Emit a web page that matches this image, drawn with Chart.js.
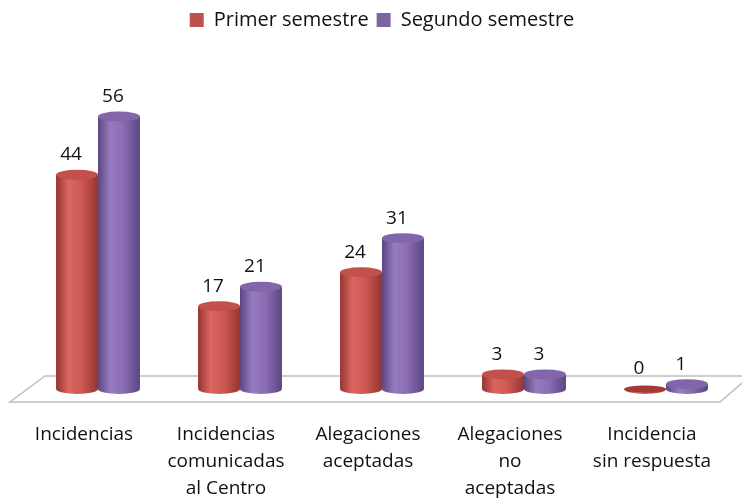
<!DOCTYPE html>
<html>
<head>
<meta charset="utf-8">
<script src="https://cdn.jsdelivr.net/npm/chart.js@4"></script>
<style>
  html, body { margin: 0; padding: 0; background: #fff; }
  #wrap { width: 742px; height: 500px; }
</style>
</head>
<body>
<div id="wrap"><canvas id="chart"></canvas></div>
<script>
// Chart data
const categories = [
    'Incidencias',
    ['Incidencias', 'comunicadas', 'al Centro'],
    ['Alegaciones', 'aceptadas'],
    ['Alegaciones', 'no', 'aceptadas'],
    ['Incidencia', 'sin respuesta']
];
const seriesNames = ['Primer semestre', 'Segundo semestre'];
const primerValues = [44, 17, 24, 3, 0];
const segundoValues = [56, 21, 31, 3, 1];

const baseColors = ['#C0504D', '#8064A2'];
const shades = [
    { dark: '#963530', mid: '#CF5853', light: '#DA6661', top: '#C4504C' },
    { dark: '#5C4682', mid: '#8A6DB3', light: '#977BC0', top: '#8366AA' }
];

const FONT = '"Open Sans", Lato, sans-serif';
const RY = 5; // half height of the cylinder caps

// Floor drawn under the cylinders
const floorPlugin = {
    id: 'floor',
    beforeDatasetsDraw(chart) {
        const { ctx, chartArea } = chart;
        const base = chart.scales.y.getPixelForValue(0);
        ctx.save();
        ctx.beginPath();
        ctx.moveTo(chartArea.left - 17, base + 13);
        ctx.lineTo(chartArea.right - 17, base + 13);
        ctx.lineTo(chart.width + 8, base - 13);
        ctx.lineTo(chartArea.left + 18, base - 13);
        ctx.closePath();
        ctx.fillStyle = '#ffffff';
        ctx.fill();
        ctx.strokeStyle = '#BFBFBF';
        ctx.lineWidth = 1.5;
        ctx.stroke();
        ctx.restore();
    }
};

// Draw each bar as a cylinder on top of the plain bar
const cylinderPlugin = {
    id: 'cylinders',
    afterDatasetsDraw(chart) {
        const ctx = chart.ctx;
        chart.data.datasets.forEach((ds, di) => {
            const meta = chart.getDatasetMeta(di);
            const sh = shades[di];
            meta.data.forEach(el => {
                const left = el.x - el.width / 2;
                const right = el.x + el.width / 2;
                const rx = el.width / 2;
                const grad = ctx.createLinearGradient(left, 0, right, 0);
                grad.addColorStop(0, sh.dark);
                grad.addColorStop(0.3, sh.light);
                grad.addColorStop(0.6, sh.mid);
                grad.addColorStop(1, sh.dark);
                ctx.save();
                // body + bottom cap
                ctx.beginPath();
                ctx.moveTo(left, el.y);
                ctx.lineTo(left, el.base);
                ctx.ellipse(el.x, el.base, rx, RY, 0, Math.PI, 0, true);
                ctx.lineTo(right, el.y);
                ctx.closePath();
                ctx.fillStyle = grad;
                ctx.fill();
                // top cap
                ctx.beginPath();
                ctx.ellipse(el.x, el.y, rx, el.y === el.base ? RY * 0.7 : RY, 0, 0, Math.PI * 2);
                ctx.fillStyle = el.y === el.base ? '#A33A36' : sh.top;
                ctx.fill();
                ctx.restore();
            });
        });
    }
};

// Value labels above each cylinder
const valueLabelPlugin = {
    id: 'valueLabels',
    afterDatasetsDraw(chart) {
        const ctx = chart.ctx;
        ctx.save();
        ctx.font = '19px ' + FONT;
        ctx.fillStyle = '#111111';
        ctx.textAlign = 'center';
        ctx.textBaseline = 'middle';
        chart.data.datasets.forEach((ds, di) => {
            chart.getDatasetMeta(di).data.forEach((el, i) => {
                ctx.fillText(String(ds.data[i]), el.x - 6, el.y - 20);
            });
        });
        ctx.restore();
    }
};

// Fixed room for the legend so the plot starts where the reference does
const legendMargin = {
    id: 'legendMargin',
    beforeInit(chart) {
        const fit = chart.legend.fit;
        chart.legend.fit = function () {
            fit.bind(chart.legend)();
            this.height = 95;
        };
    }
};

const ctx = document.getElementById('chart').getContext('2d');
new Chart(ctx, {
    type: 'bar',
    data: {
        labels: categories,
        datasets: [
            {
                label: seriesNames[0],
                data: primerValues,
                backgroundColor: baseColors[0],
                barPercentage: 1.0,
                categoryPercentage: 0.59
            },
            {
                label: seriesNames[1],
                data: segundoValues,
                backgroundColor: baseColors[1],
                barPercentage: 1.0,
                categoryPercentage: 0.59
            }
        ]
    },
    options: {
        responsive: true,
        maintainAspectRatio: false,
        animation: false,
        layout: {
            padding: { left: 27, right: 5, top: 2, bottom: 0 }
        },
        plugins: {
            legend: {
                position: 'top',
                labels: {
                    boxWidth: 14,
                    boxHeight: 14,
                    padding: 8,
                    color: '#111111',
                    font: { size: 20, family: FONT }
                }
            },
            tooltip: { enabled: false }
        },
        scales: {
            x: {
                grid: { display: false, drawTicks: false },
                border: { display: false },
                afterFit(scale) {
                    scale.height = 111;
                    scale.paddingLeft = 0;
                    scale.paddingRight = 0;
                },
                ticks: {
                    color: '#111111',
                    padding: 32,
                    labelOffset: -14,
                    maxRotation: 0,
                    autoSkip: false,
                    font: { size: 19, family: FONT, lineHeight: 1.42 }
                }
            },
            y: {
                display: false,
                min: 0,
                max: 60
            }
        }
    },
    plugins: [floorPlugin, cylinderPlugin, valueLabelPlugin, legendMargin]
});
</script>
</body>
</html>
